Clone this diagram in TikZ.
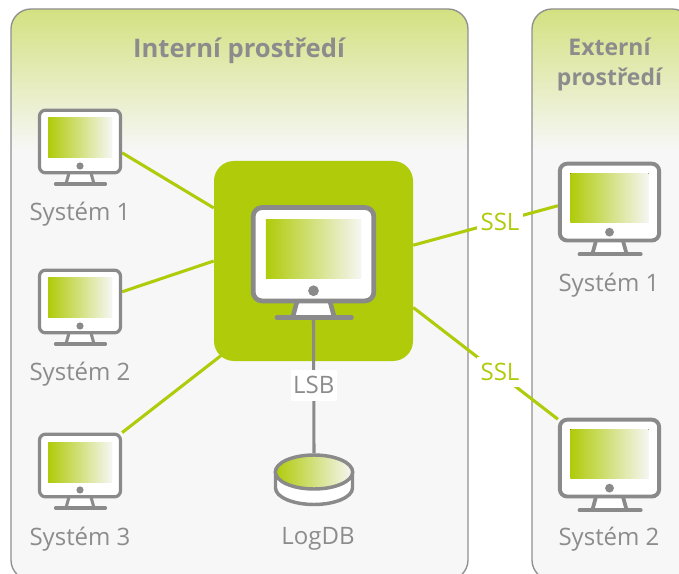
\documentclass[tikz,border=0pt]{standalone}
\usepackage{fontspec}
\setmainfont{Open Sans}
\usetikzlibrary{shapes.geometric}
\definecolor{lime}{HTML}{B0CB0A}
\definecolor{gtext}{HTML}{8C8C8C}
\definecolor{gline}{HTML}{8A8A8A}
\definecolor{panelbg}{HTML}{F7F7F7}
\definecolor{fade}{HTML}{F6F6F3}
\definecolor{edgegray}{HTML}{8F8F8F}
\colorlet{paneltop}{lime!50!panelbg}
\pgfdeclareverticalshading{panelgrad}{100bp}{
  color(0bp)=(panelbg); color(62.6bp)=(panelbg); color(75bp)=(paneltop); color(100bp)=(paneltop)}
\pgfdeclarelayer{back}
\pgfdeclarelayer{conn}
\pgfsetlayers{back,conn,main}
\tikzset{
  panel/.style={draw=edgegray,line width=1pt,rounded corners=15pt,shade,shading=panelgrad,inner sep=0pt},
  lbl/.style={text=gtext,font=\fontsize{18}{22}\selectfont,inner sep=0pt},
  ttl/.style={text=gtext,inner sep=0pt,align=center},
  greenline/.style={draw=lime,line width=2.3pt},
  grayline/.style={draw=gline,line width=2.3pt},
  tag/.style={fill=white,inner sep=0pt,minimum width=34.5pt,minimum height=23pt,font=\fontsize{18}{22}\selectfont},
  mon/.style={draw=gline,fill=white,inner sep=0pt},
  hubbox/.style={fill=lime,rounded corners=15pt,minimum width=149.25pt,minimum height=150pt,inner sep=0pt},
}
\newcommand{\monitorat}[4]{% name, cx, cy, scale
  \begin{scope}[shift={(#2,#3)},scale=#4]
    \fill[white] (-10,33) -- (10,33) -- (13.5,43) -- (-13.5,43) -- cycle;
    \draw[gline,line width=#4*2.3pt,line join=round] (-11,32) -- (-14,43) (11,32) -- (14,43);
    \draw[gline,line width=#4*2.3pt,line cap=round] (-24.5,43) -- (25.5,43);
    \node[mon,rounded corners=#4*4.5pt,line width=#4*2.4pt,minimum width=#4*60.75pt,minimum height=#4*47pt] (#1) at (0,0.5) {};
    \fill[left color=lime,right color=fade] (-32,-23) rectangle (32,17);
    \fill[gline] (0,25) circle (3.6);
    \coordinate (#1-base) at (0,43);
  \end{scope}
}
\begin{document}
\begin{tikzpicture}[x=0.75pt,y=-0.75pt]
\useasboundingbox (0,0) rectangle (679,574);
\begin{pgfonlayer}{back}
  \fill[white] (0,0) rectangle (679,574);
  \node[panel,minimum width=342.75pt,minimum height=428.25pt] (intpanel) at (239.5,294.5) {};
  \node[panel,minimum width=120pt,minimum height=428.25pt] (extpanel) at (612,294.5) {};
\end{pgfonlayer}
\node[ttl,font=\fontsize{19.2}{22}\bfseries\selectfont] (titleint) at (239,51) {Interní prostředí};
\node[ttl,font=\fontsize{17.2}{22.5}\bfseries\selectfont] (titleext) at (609.5,64) {Externí\\prostředí};

\node[hubbox] (hub) at (313.5,261) {};
\monitorat{big}{313.5}{253.5}{1.49}
\monitorat{a}{80}{141}{1}
\monitorat{b}{80}{301}{1}
\monitorat{c}{80}{465}{1}
\monitorat{x}{609.5}{201.5}{1.226}
\monitorat{y}{609.5}{457.5}{1.226}

\node[lbl] (la) at (80,214) {Systém 1};
\node[lbl] (lb) at (80,374) {Systém 2};
\node[lbl] (lc) at (80,539) {Systém 3};
\node[lbl] (lx) at (609,285) {Systém 1};
\node[lbl] (ly) at (609,539) {Systém 2};
\node[lbl] (ldb) at (318,539) {LogDB};

% database
\draw[gline,line width=2.6pt,fill=white] (275.5,472) -- (275.5,488)
  .. controls (275.5,497) and (292.8,504.5) .. (314,504.5)
  .. controls (335.2,504.5) and (352.5,497) .. (352.5,488) -- (352.5,472);
\node[ellipse,draw=gline,line width=2.6pt,left color=lime,right color=fade,minimum width=58pt,minimum height=25.5pt,inner sep=0pt] (db) at (314,472) {};

\draw[grayline] (big-base) -- node[tag,text=gtext,pos=0.5] (lsb) {LSB} (db.north);

\begin{pgfonlayer}{conn}
  \draw[greenline] (a.-15) -- (hub.152);
  \draw[greenline] (b.13) -- (hub.180);
  \draw[greenline,shorten >=-8pt] (c.38) -- (hub.south west);
  \draw[greenline] (hub.9) -- node[tag,text=lime,pos=0.6] (ssl1) {SSL} (x.184.5);
  \draw[greenline] (hub.-25.3) -- node[tag,text=lime,pos=0.6,yshift=2pt] (ssl2) {SSL} (y.143);
\end{pgfonlayer}
\end{tikzpicture}
\end{document}
